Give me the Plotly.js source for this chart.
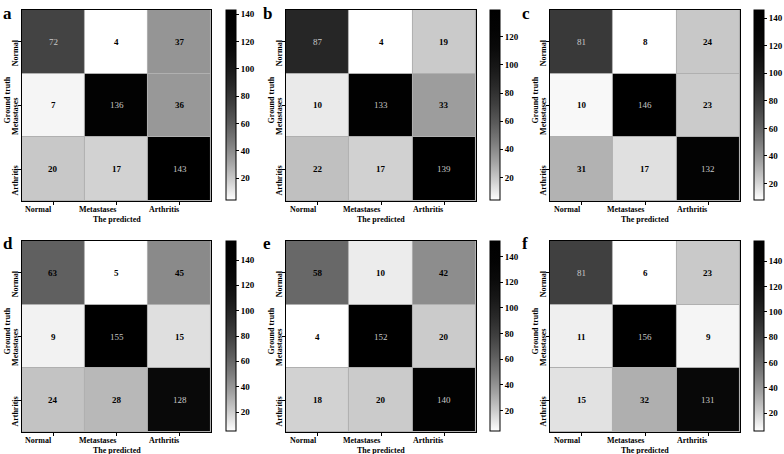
<!DOCTYPE html>
<html>
<head>
<meta charset="utf-8">
<script src="https://cdn.plot.ly/plotly-3.0.1.min.js"></script>
<style>html,body{margin:0;padding:0;background:#fff}#chart{width:784px;height:454px}</style>
</head>
<body>
<div id="chart"></div>
<script>
// ---- data ----
var labels = ['Normal', 'Metastases', 'Arthritis'];
var panelLetters = ['a', 'b', 'c', 'd', 'e', 'f'];
var xTitle = 'The predicted';
var yTitle = 'Ground truth';
var zA = [[72, 4, 37], [7, 136, 36], [20, 17, 143]];
var zB = [[87, 4, 19], [10, 133, 33], [22, 17, 139]];
var zC = [[81, 8, 24], [10, 146, 23], [31, 17, 132]];
var zD = [[63, 5, 45], [9, 155, 15], [24, 28, 128]];
var zE = [[58, 10, 42], [4, 152, 20], [18, 20, 140]];
var zF = [[81, 6, 23], [11, 156, 9], [15, 32, 131]];
var matrices = [zA, zB, zC, zD, zE, zF];

// ---- style ----
var W = 784, H = 454;
var FONT = 'Liberation Serif, Times New Roman, serif';
var greys = [
  [0.0, 'rgb(255,255,255)'], [0.1, 'rgb(207,207,207)'], [0.2, 'rgb(163,163,163)'],
  [0.3, 'rgb(125,125,125)'], [0.4, 'rgb(92,92,92)'], [0.5, 'rgb(64,64,64)'],
  [0.6, 'rgb(41,41,41)'], [0.7, 'rgb(23,23,23)'], [0.8, 'rgb(10,10,10)'],
  [0.9, 'rgb(3,3,3)'], [1.0, 'rgb(0,0,0)']
];
// pixel boxes of each heatmap [left, right, top, bottom]
var boxes = [
  [22, 212, 10, 201], [287, 478, 10, 201], [552, 743, 10, 201],
  [22, 212, 241, 432], [287, 478, 241, 432], [552, 743, 241, 432]
];
var cbX = [227, 492, 757, 227, 492, 757];
var letterPos = [[1, 2], [262, 2], [522, 2], [1, 232], [262, 232], [522, 232]];
var labelFont = {family: FONT, size: 8, color: '#000', weight: 'bold'};
var numFont = 9;

var traces = [];
var layout = {
  width: W, height: H,
  margin: {l: 0, r: 0, t: 0, b: 0},
  paper_bgcolor: '#ffffff',
  plot_bgcolor: '#b0b0b0',
  font: {family: FONT, size: 9, color: '#000'},
  showlegend: false,
  annotations: []
};

matrices.forEach(function (z, i) {
  var n = i + 1;
  var xa = 'x' + (n === 1 ? '' : n), ya = 'y' + (n === 1 ? '' : n);
  var b = boxes[i];
  var flat = [].concat.apply([], z);
  var zmin = Math.min.apply(null, flat), zmax = Math.max.apply(null, flat);
  traces.push({
    type: 'heatmap', x: labels, y: labels, z: z,
    xaxis: xa, yaxis: ya,
    colorscale: greys, zmin: zmin, zmax: zmax,
    xgap: 1, ygap: 1,
    hoverinfo: 'skip',
    colorbar: {
      x: cbX[i] / W, xanchor: 'left', xpad: 0, ypad: 0,
      y: 1 - b[2] / H, yanchor: 'top',
      len: (b[3] - b[2] - 1) / H, lenmode: 'fraction',
      thickness: 10, thicknessmode: 'pixels',
      outlinewidth: 1, outlinecolor: '#000',
      tick0: 0, dtick: 20, ticks: 'outside', ticklen: 3, tickcolor: '#000',
      tickfont: {family: FONT, size: numFont, color: '#000', weight: 'bold'}
    }
  });
  var axKeyX = 'xaxis' + (n === 1 ? '' : n), axKeyY = 'yaxis' + (n === 1 ? '' : n);
  layout[axKeyX] = {
    domain: [b[0] / W, b[1] / W], anchor: ya,
    showline: true, mirror: true, linecolor: '#000', linewidth: 1,
    ticks: 'outside', ticklen: 3, tickcolor: '#000', showticklabels: false,
    showgrid: false, zeroline: false, fixedrange: true
  };
  layout[axKeyY] = {
    domain: [1 - b[3] / H, 1 - b[2] / H], anchor: xa,
    autorange: 'reversed',
    showline: true, mirror: true, linecolor: '#000', linewidth: 1,
    ticks: 'outside', ticklen: 3, tickcolor: '#000', showticklabels: false,
    showgrid: false, zeroline: false, fixedrange: true
  };
  // category tick labels (x: right-aligned at ticks, y: rotated, shifted down)
  labels.forEach(function (lab) {
    layout.annotations.push({
      xref: xa, yref: 'paper', x: lab, y: 1 - (b[3] + 8) / H,
      xanchor: 'right', yanchor: 'middle', showarrow: false, borderpad: 0,
      text: lab, font: labelFont
    });
    layout.annotations.push({
      xref: 'paper', yref: ya, x: (b[0] - 1) / W, y: lab, yshift: -11,
      xanchor: 'right', yanchor: 'middle', showarrow: false, borderpad: 0,
      textangle: -90, text: lab, font: labelFont
    });
  });
  // axis titles
  layout.annotations.push({
    xref: 'paper', yref: 'paper',
    x: (b[0] + b[1]) / 2 / W, y: 1 - (b[3] + 18) / H,
    xanchor: 'center', yanchor: 'middle', showarrow: false,
    text: xTitle, font: labelFont
  });
  layout.annotations.push({
    xref: 'paper', yref: 'paper',
    x: (b[0] - 14) / W, y: 1 - ((b[2] + b[3]) / 2 - 6) / H,
    xanchor: 'center', yanchor: 'middle', showarrow: false, textangle: -90,
    text: yTitle, font: labelFont
  });
  // cell value annotations
  for (var r = 0; r < 3; r++) {
    for (var c = 0; c < 3; c++) {
      var t = (z[r][c] - zmin) / (zmax - zmin);
      layout.annotations.push({
        xref: xa, yref: ya, x: labels[c], y: labels[r],
        text: String(z[r][c]), showarrow: false,
        font: {family: FONT, size: numFont, color: t > 0.45 ? '#c8c8c8' : '#000',
               weight: t > 0.45 ? 'normal' : 'bold'}
      });
    }
  }
  // panel letter
  layout.annotations.push({
    xref: 'paper', yref: 'paper',
    x: letterPos[i][0] / W, y: 1 - letterPos[i][1] / H,
    xanchor: 'left', yanchor: 'top',
    text: '<b>' + panelLetters[i] + '</b>', showarrow: false,
    font: {family: FONT, size: 17, color: '#000'}
  });
});

Plotly.newPlot('chart', traces, layout, {displayModeBar: false, staticPlot: true});
</script>
</body>
</html>
